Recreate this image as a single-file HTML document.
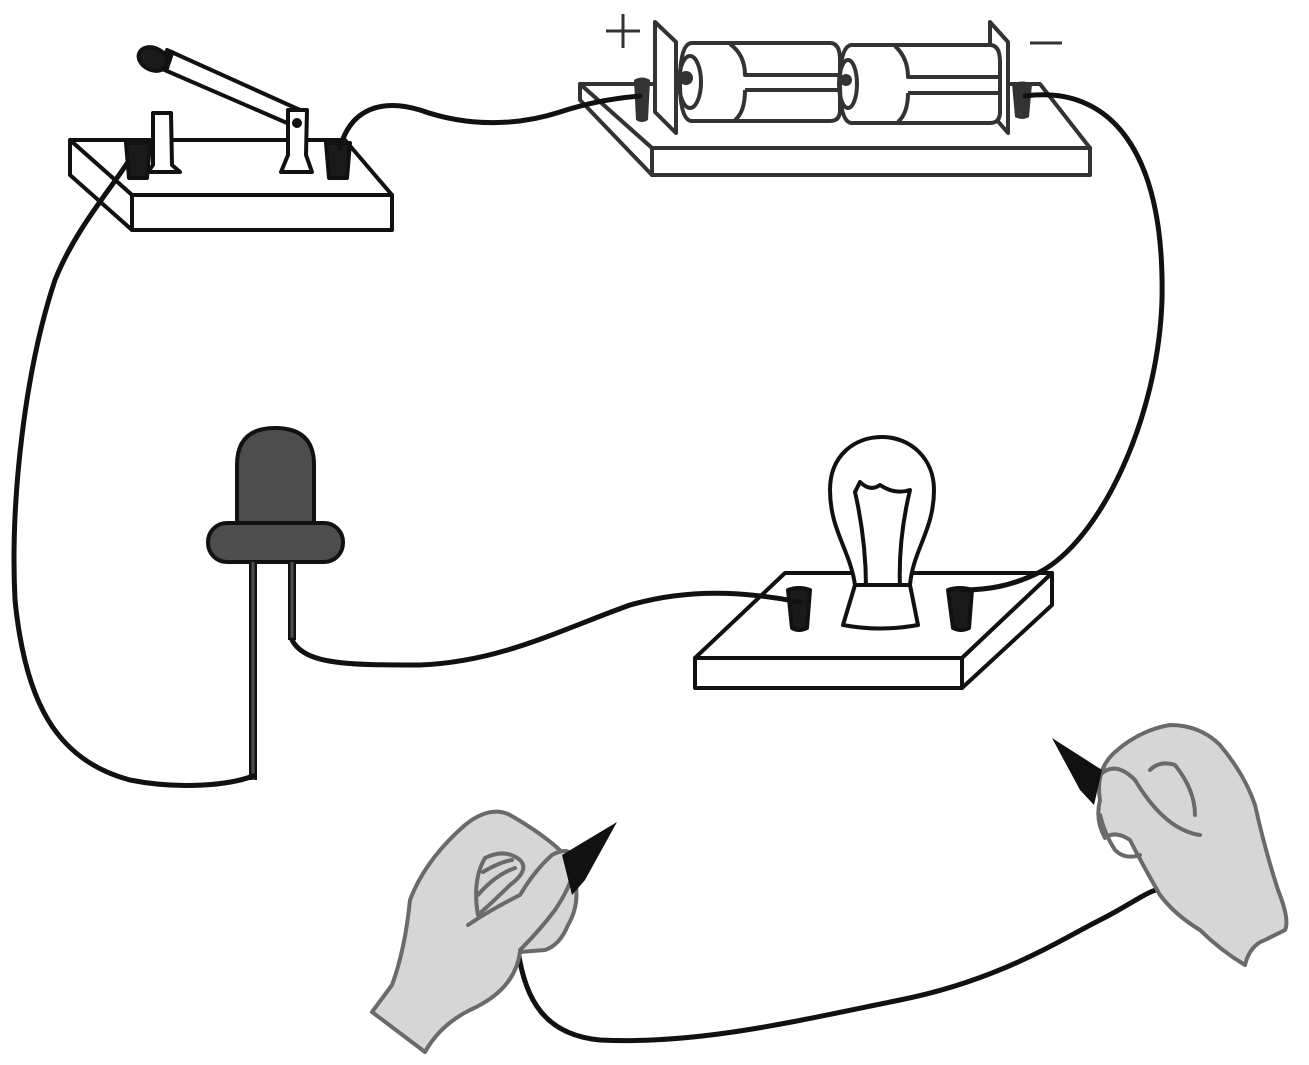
<!DOCTYPE html>
<html><head><meta charset="utf-8"><style>html,body{margin:0;padding:0;background:#fff}svg{display:block}</style></head>
<body>
<svg width="1309" height="1065" viewBox="0 0 1309 1065" xmlns="http://www.w3.org/2000/svg">
<g fill="#fff" stroke="#111" stroke-width="4" stroke-linejoin="round">
<polygon points="70,140 345,140 392,195 132,195"/>
<rect x="132" y="195" width="260" height="35"/>
<polygon points="70,140 70,175 132,230 132,195"/>
<polygon points="580,84 1040,84 1090,148 652,148" stroke="#333"/>
<rect x="652" y="148" width="438" height="27" stroke="#333"/>
<polygon points="580,84 580,100 652,175 652,148" stroke="#333"/>
<polygon points="785,573 1052,573 962,658 695,658"/>
<rect x="695" y="658" width="267" height="30"/>
<polygon points="1052,573 1052,605 962,688 962,658"/>
</g>
<g stroke="#111" stroke-width="4" stroke-linejoin="round">
<polygon points="153,113 171,113 172,165 180,172 148,172 153,165" fill="#fff"/>
<path d="M126,143 h24 l-3,35 h-18 z" fill="#1a1a1a"/>
<path d="M326,143 h24 l-3,35 h-18 z" fill="#1a1a1a"/>
<polygon points="167,50 300,110 294,126 160,68" fill="#fff"/>
<polygon points="288,110 307,110 306,155 312,172 281,172 288,155" fill="#fff"/>
<circle cx="297" cy="123" r="3" fill="#111"/>
<ellipse cx="153" cy="59" rx="15" ry="11" fill="#1a1a1a" transform="rotate(25 153 59)"/>
<line x1="172" y1="50" x2="165" y2="71" stroke-width="6"/>
</g>
<g stroke="#333" stroke-width="4" fill="#fff" stroke-linejoin="round">
<polygon points="655,22 676,42 676,133 655,112"/>
<polygon points="990,22 1008,42 1008,133 990,112"/>
<path d="M692,43 H830 Q840,43 840,60 V110 Q840,121 830,121 H692 Q680,121 680,82 Q680,43 692,43 Z"/>
<path d="M852,45 H990 Q1000,45 1000,62 V112 Q1000,123 990,123 H852 Q840,123 840,84 Q840,45 852,45 Z"/>
<path d="M730,44 Q745,55 745,75 H840 M745,90 H840 M745,90 Q745,112 735,120" fill="none"/>
<path d="M895,46 Q908,58 908,77 H1000 M908,93 H1000 M908,93 Q908,113 898,122" fill="none"/>
<ellipse cx="690" cy="82" rx="11" ry="26" fill="none"/>
<ellipse cx="848" cy="84" rx="9" ry="24" fill="none"/>
</g>
<circle cx="686" cy="78" r="7" fill="#333"/><circle cx="846" cy="80" r="6" fill="#333"/>
<path d="M634,80 q8,-5 16,0 l-2,40 q-6,4 -12,0 z" fill="#333"/>
<path d="M1012,84 q10,-5 20,0 l-3,33 q-7,4 -14,0 z" fill="#333"/>
<line x1="606" y1="31" x2="640" y2="31" stroke="#333" stroke-width="3"/>
<line x1="623" y1="14" x2="623" y2="48" stroke="#333" stroke-width="3"/>
<line x1="1030" y1="43" x2="1062" y2="43" stroke="#333" stroke-width="3"/>
<g stroke="#111" stroke-width="4" fill="#fff" stroke-linejoin="round">
<path d="M855,585 C850,550 830,530 830,490 C830,455 855,437 882,437 C910,437 934,458 934,490 C934,530 913,550 910,585 Z"/>
<path d="M866,588 Q866,540 855,492 L860,482 Q870,492 880,485 Q895,495 910,490 Q898,540 900,588" fill="none"/>
<path d="M855,585 L910,585 L918,625 Q880,632 843,625 Z"/>
<path d="M788,590 q11,-4 22,0 l-3,38 q-8,4 -15,0 z" fill="#1a1a1a"/>
<path d="M948,590 q12,-4 24,0 l-3,38 q-8,4 -16,0 z" fill="#1a1a1a"/>
</g>
<g stroke="#111" stroke-width="4" fill="#4d4d4d">
<path d="M237,527 V465 Q237,428 275,428 Q314,428 314,465 V527 Z"/>
<rect x="208" y="523" width="135" height="39" rx="19"/>
<line x1="253" y1="562" x2="253" y2="780" stroke-width="8"/>
<line x1="292" y1="562" x2="292" y2="640" stroke-width="8"/>
</g>
<line x1="253" y1="562" x2="253" y2="780" stroke="#4d4d4d" stroke-width="3"/>
<line x1="292" y1="562" x2="292" y2="640" stroke="#4d4d4d" stroke-width="3"/>
<g fill="none" stroke="#111" stroke-width="5" stroke-linecap="round">
<path d="M128,162 C110,190 75,230 55,280 C25,370 10,500 15,600 C25,700 55,760 130,780 C180,790 230,785 253,776"/>
<path d="M340,148 C350,110 380,98 420,110 C470,128 520,125 560,112 C590,102 615,98 640,96"/>
<path d="M1025,96 C1110,85 1165,150 1162,300 C1158,420 1100,540 1040,572 C1010,587 985,590 962,590"/>
<path d="M292,640 C305,665 350,665 420,665 C500,662 560,630 630,605 C700,585 760,595 800,602"/>
<path d="M518,950 C525,1000 545,1035 600,1040 C700,1045 800,1020 900,1000 C1000,980 1060,940 1100,920 C1140,900 1160,880 1165,895"/>
</g>
<g stroke="#6a6a6a" stroke-width="4" fill="#d6d6d6" stroke-linejoin="round" stroke-linecap="round">
<path d="M372,1012 L392,985 Q405,950 410,900 Q425,860 465,825 Q490,805 510,815 Q545,835 565,855 L575,880 Q580,905 568,925 Q560,945 545,950 L520,952 Q515,990 470,1010 Q440,1025 425,1052 Z"/>
<path d="M468,925 Q490,910 520,895 Q535,870 552,855 Q570,845 575,860 Q575,880 555,910 Q540,930 520,950" />
<path d="M478,915 Q472,880 485,858 Q505,848 520,860 Q530,870 510,885 Q495,900 478,915 Z"/>
<path d="M478,895 Q495,875 515,868 M483,872 Q500,862 512,860" fill="none"/>
<path d="M1160,895 Q1140,860 1130,840 Q1115,830 1105,838 Q1095,820 1100,800 Q1095,770 1115,752 Q1140,730 1170,725 Q1200,725 1220,745 Q1245,775 1255,805 Q1265,850 1278,890 Q1290,920 1285,930 L1265,940 Q1250,945 1245,965 Q1220,950 1200,930 Q1175,915 1160,895 Z"/>
<path d="M1100,775 Q1115,760 1135,780 Q1165,830 1200,835 M1150,770 Q1160,760 1175,765 Q1195,790 1195,815" fill="none"/>
<path d="M1100,815 Q1105,835 1115,850 Q1125,860 1140,855" fill="none"/>
</g>
<polygon points="562,855 617,822 585,880 572,895" fill="#111"/>
<polygon points="1052,738 1102,770 1094,805 1080,790" fill="#111"/>
</svg>
</body></html>
